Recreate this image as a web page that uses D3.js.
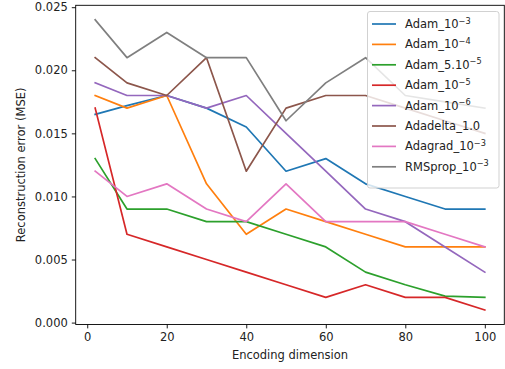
<!DOCTYPE html>
<html>
<head>
<meta charset="utf-8">
<script src="https://d3js.org/d3.v7.min.js"></script>
<style>
  body { margin: 0; background: #fff; }
  text { font-family: "DejaVu Sans", sans-serif; fill: #000; }
</style>
</head>
<body>
<div id="my_dataviz"></div>
<script>
// data
var dims = [2, 10, 20, 30, 40, 50, 60, 70, 80, 90, 100];
var adam_1e3   = [0.0165, 0.0172, 0.018, 0.017, 0.0155, 0.012, 0.013, 0.011, 0.010, 0.009, 0.009];
var adam_1e4   = [0.018, 0.017, 0.018, 0.011, 0.007, 0.009, 0.008, 0.007, 0.006, 0.006, 0.006];
var adam_5e5   = [0.013, 0.009, 0.009, 0.008, 0.008, 0.007, 0.006, 0.004, 0.003, 0.0021, 0.002];
var adam_1e5   = [0.017, 0.007, 0.006, 0.005, 0.004, 0.003, 0.002, 0.003, 0.002, 0.002, 0.001];
var adam_1e6   = [0.019, 0.018, 0.018, 0.017, 0.018, 0.015, 0.012, 0.009, 0.008, 0.006, 0.004];
var adadelta   = [0.021, 0.019, 0.018, 0.021, 0.012, 0.017, 0.018, 0.018, 0.017, 0.016, 0.015];
var adagrad    = [0.012, 0.010, 0.011, 0.009, 0.008, 0.011, 0.008, 0.008, 0.008, 0.007, 0.006];
var rmsprop    = [0.024, 0.021, 0.023, 0.021, 0.021, 0.016, 0.019, 0.021, 0.018, 0.0175, 0.017];

// legend names: base text + superscript
var names = [["Adam_10", "\u22123"], ["Adam_10", "\u22124"], ["Adam_5.10", "\u22125"], ["Adam_10", "\u22125"],
             ["Adam_10", "\u22126"], ["Adadelta_1.0", ""], ["Adagrad_10", "\u22123"], ["RMSprop_10", "\u22123"]];
var colors = ["#1f77b4", "#ff7f0e", "#2ca02c", "#d62728", "#9467bd", "#8c564b", "#e377c2", "#7f7f7f"];
var xTicks = [0, 20, 40, 60, 80, 100];
var yTicks = [0, 0.005, 0.010, 0.015, 0.020, 0.025];

var series = [adam_1e3, adam_1e4, adam_5e5, adam_1e5, adam_1e6, adadelta, adagrad, rmsprop];

// plot area (window.top is reserved, so use a margin object)
var W = 505, H = 369;
var plot = {left: 75.7, right: 504.3, top: 5.3, bottom: 324.5};

var svg = d3.select("#my_dataviz")
  .append("svg")
    .attr("width", W)
    .attr("height", H);

var x = d3.scaleLinear().domain([-2.9, 104.9]).range([plot.left, plot.right]);
var y = d3.scaleLinear().domain([-0.00015, 0.02515]).range([plot.bottom, plot.top]);

// lines
var line = d3.line()
  .x(function(d, i) { return x(dims[i]); })
  .y(function(d) { return y(d); });

svg.selectAll("myPath")
  .data(series)
  .enter()
  .append("path")
    .attr("d", line)
    .style("fill", "none")
    .style("stroke", function(d, i) { return colors[i]; })
    .style("stroke-width", 1.7)
    .style("stroke-linejoin", "round")
    .style("stroke-linecap", "square");

// axes
var xAxis = svg.append("g")
  .attr("transform", "translate(0," + plot.bottom + ")")
  .call(d3.axisBottom(x).tickValues(xTicks).tickSize(3.9).tickPadding(4).tickFormat(d3.format("d")));
var yAxis = svg.append("g")
  .attr("transform", "translate(" + plot.left + ",0)")
  .call(d3.axisLeft(y).tickValues(yTicks).tickSize(3.9).tickPadding(4).tickFormat(d3.format(".3f")));

[xAxis, yAxis].forEach(function(a) {
  a.select(".domain").remove();
  a.selectAll("line").style("stroke", "#000").style("stroke-width", 0.9);
  a.selectAll("text").style("font-size", "11.5px").style("font-family", "DejaVu Sans").style("fill", "#222");
});

// frame
svg.append("rect")
  .attr("x", plot.left).attr("y", plot.top)
  .attr("width", plot.right - plot.left).attr("height", plot.bottom - plot.top)
  .style("fill", "none").style("stroke", "#000").style("stroke-width", 0.9);

// axis titles
svg.append("text")
  .attr("x", (plot.left + plot.right) / 2).attr("y", 359)
  .attr("text-anchor", "middle")
  .style("font-size", "11.5px")
  .style("fill", "#222")
  .text("Encoding dimension");
svg.append("text")
  .attr("transform", "translate(25," + ((plot.top + plot.bottom) / 2) + ") rotate(-90)")
  .attr("text-anchor", "middle")
  .style("font-size", "11.5px")
  .style("fill", "#222")
  .text("Reconstruction error (MSE)");

// legend
var lg = svg.append("g");
lg.append("rect")
  .attr("x", 367.5).attr("y", 11.5)
  .attr("width", 131.5).attr("height", 176.5)
  .attr("rx", 2.5)
  .style("fill", "#fff").style("fill-opacity", 0.8)
  .style("stroke", "#ccc").style("stroke-width", 0.9);

var rows = lg.selectAll("myLegend")
  .data(names)
  .enter()
  .append("g")
    .attr("transform", function(d, i) { return "translate(0," + (24 + i * 20.4) + ")"; });

rows.append("line")
  .attr("x1", 372).attr("x2", 396)
  .style("stroke", function(d, i) { return colors[i]; })
  .style("stroke-width", 1.7);

var lt = rows.append("text")
  .attr("x", 405).attr("y", 4)
  .style("font-size", "11.5px")
  .style("fill", "#222");
lt.append("tspan").text(function(d) { return d[0]; });
lt.append("tspan")
  .attr("dy", -4.5)
  .style("font-size", "8.2px")
  .text(function(d) { return d[1]; });
</script>
</body>
</html>
